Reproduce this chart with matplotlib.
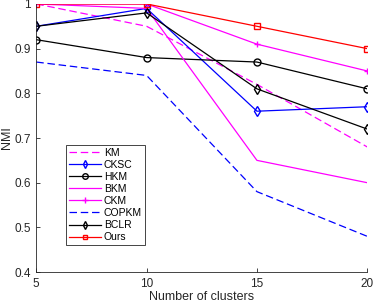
import matplotlib
matplotlib.use("Agg")
import matplotlib.pyplot as plt

clusters = [5, 10, 15, 20]
km = [1.0, 0.95, 0.82, 0.68]
cksc = [0.95, 0.99, 0.76, 0.77]
hkm = [0.92, 0.88, 0.87, 0.81]
bkm = [1.0, 0.99, 0.65, 0.60]
ckm = [1.0, 1.0, 0.91, 0.85]
copkm = [0.87, 0.84, 0.58, 0.48]
bclr = [0.95, 0.98, 0.81, 0.72]
ours = [1.0, 1.0, 0.95, 0.90]

plt.rcParams["font.family"] = ["Liberation Sans", "DejaVu Sans"]
plt.rcParams["font.size"] = 9

fig = plt.figure(figsize=(3.74, 3.03), dpi=100)
ax = fig.add_axes([0.097, 0.102, 0.885, 0.885])

lw = 0.9
ms = 5
ax.plot(clusters, km, color="#ff00ff", linestyle=(0, (6, 3)), lw=lw, label="KM")
ax.plot(clusters, cksc, color="#0000ff", marker="d", mfc="none", ms=ms, lw=lw, label="CKSC")
ax.plot(clusters, hkm, color="black", marker="o", mfc="none", ms=ms, lw=lw, label="HKM")
ax.plot(clusters, bkm, color="#ff00ff", lw=lw, label="BKM")
ax.plot(clusters, ckm, color="#ff00ff", marker="+", ms=ms, lw=lw, label="CKM")
ax.plot(clusters, copkm, color="#0000ff", linestyle=(0, (6, 3)), lw=lw, label="COPKM")
ax.plot(clusters, bclr, color="black", marker="d", mfc="none", ms=ms, lw=lw, label="BCLR")
ax.plot(clusters, ours, color="#ff0000", marker="s", mfc="none", ms=4, lw=lw, label="Ours")

ax.set_xlim(5, 20)
ax.set_ylim(0.4, 1.0)
ax.set_xticks(clusters)
ax.set_yticks([0.4, 0.5, 0.6, 0.7, 0.8, 0.9, 1.0])
ax.set_yticklabels(["0.4", "0.5", "0.6", "0.7", "0.8", "0.9", "1"])
ax.tick_params(direction="in", length=3, width=0.6, colors="#262626", labelcolor="#262626",
               labelsize=8.5, pad=4)
for side in ["top", "right"]:
    ax.spines[side].set_visible(False)
for side in ["left", "bottom"]:
    ax.spines[side].set_color("#262626")
    ax.spines[side].set_linewidth(0.6)

ax.set_xlabel("Number of clusters", color="#262626", labelpad=1)
ax.set_ylabel("NMI", color="#262626", labelpad=1)

leg = ax.legend(loc="upper left", bbox_to_anchor=(0.075, 0.495), fancybox=False,
                edgecolor="#262626", framealpha=1, handlelength=3.0, handletextpad=0.3,
                borderpad=0.3, labelspacing=0.2, fontsize=7.5, markerscale=0.8)
leg.get_frame().set_linewidth(0.6)

fig.savefig("out.png", dpi=100)
